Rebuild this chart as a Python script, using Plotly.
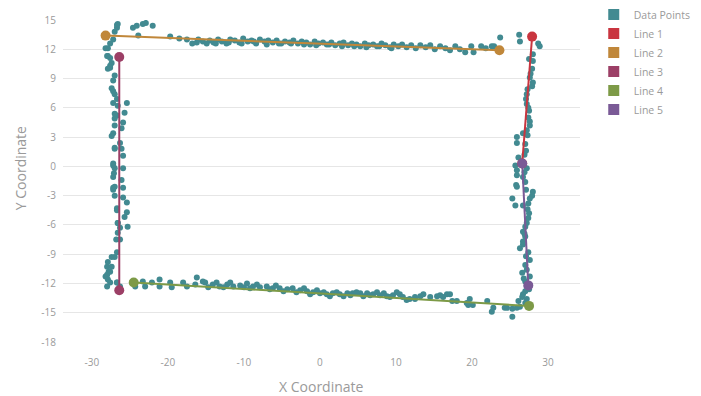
import plotly.graph_objects as go

# ---------------- data ----------------
top_x = [-24.6, -24.1, -23.3, -22.9, -22.0, -23.9, -19.7, -18.5, -17.5, -16.8, -16.2, -16.0, -15.4, -14.9,
         -14.5, -14.0, -13.4, -12.9, -12.3, -11.8, -11.2, -10.6, -10.1, -9.5, -9.0, -8.4, -7.9, -7.3,
         -6.8, -6.2, -5.7, -5.1, -4.6, -4.0, -3.5, -2.9, -2.4, -1.8, -1.3, -0.7, -0.2, 0.4, 0.9, 1.5,
         2.0, 2.6, 3.1, 3.7, 4.2, 4.8, 5.3, 5.9, 6.4, 7.0, 7.5, 8.1, 8.6, 9.2, 9.7, 10.3, 10.8, 11.4,
         12.0, 12.6, 13.2, 13.9, 14.5, 15.1, 15.8, 16.5, 17.1, 17.8, 18.4, 19.1, 19.9, 20.2, 21.2, 21.8,
         22.6, -13.7, -12.0, -10.3, -8.7, -7.0, -5.4, -3.8, -2.1, -0.5, 1.2, 2.9, 4.5, 6.1, 7.8, 9.4]
top_y = [14.2, 14.4, 14.6, 14.7, 14.4, 13.4, 13.3, 13.1, 13.0, 12.6, 12.7, 13.0, 12.8, 12.6,
         12.9, 12.7, 13.0, 12.8, 12.6, 13.0, 12.9, 12.7, 13.1, 12.8, 12.9, 12.6, 13.0, 12.8,
         12.9, 12.7, 12.9, 12.6, 12.8, 12.7, 12.9, 12.6, 12.8, 12.7, 12.5, 12.8, 12.6, 12.7, 12.5, 12.7,
         12.4, 12.6, 12.7, 12.4, 12.6, 12.5, 12.3, 12.6, 12.4, 12.5, 12.3, 12.6, 12.4, 12.2, 12.5, 12.3,
         12.5, 12.2, 12.4, 12.1, 12.4, 12.2, 12.4, 12.0, 12.3, 12.1, 11.9, 12.3, 12.0, 11.7, 12.3, 11.7,
         12.3, 12.1, 12.3, 12.6, 12.7, 12.6, 12.8, 12.5, 12.6, 12.6, 12.5, 12.4, 12.5, 12.3, 12.3, 12.2, 12.3, 12.1]

right_x = [23.7, 22.9, 26.2, 26.3, 28.7, 28.9, 28.0, 28.0, 27.9, 27.6, 28.0, 27.9, 27.2, 27.1, 27.2,
           27.5, 27.4, 27.6, 27.2, 26.7, 25.9, 25.9, 27.0, 27.1, 26.1, 25.7, 25.9, 25.9, 26.7, 27.2,
           25.8, 27.0, 25.9, 28.0, 27.9, 27.6, 25.3, 25.7, 26.7, 27.5, 27.4, 27.2, 26.7, 27.0, 26.7,
           26.3, 26.7, 27.6, 27.0, 27.2, 26.6, 27.6, 27.0, 27.2, 27.0, 26.7, 26.6, 26.1, 27.2,
           27.5, 27.7, 27.3, 27.4, 27.6, 27.3, 26.9, 26.5, 26.9, 27.1, 27.4, 27.3, 27.0, 26.9, 27.4,
           27.1, 26.8, 27.5]
right_y = [13.2, 12.3, 13.5, 12.8, 12.6, 12.3, 11.5, 10.8, 10.0, 9.1, 8.6, 8.2, 7.4, 6.9, 6.4,
           5.7, 5.0, 4.2, 3.7, 3.4, 3.0, 2.4, 2.3, 1.6, 0.9, 0.1, -0.4, -0.9, -1.1, -0.2,
           -1.9, -1.6, -2.1, -2.6, -3.0, -3.3, -3.3, -4.0, -4.0, -4.8, -5.3, -5.8, -6.7, -7.2, -7.7,
           -8.4, -8.0, -9.6, -10.1, -10.6, -10.9, -11.3, -11.8, -12.3, -12.8, -13.1, -13.4, -13.8, -13.6,
           11.0, 9.5, 7.9, 6.0, 4.6, 3.2, 1.2, 0.5, -0.6, -2.4, -3.8, -4.4, -6.2, -6.9, -8.8,
           -9.2, -11.5, -12.6]

left_x = [-26.6, -26.7, -27.0, -27.2, -27.6, -27.9, -27.9, -27.6, -27.4, -27.6, -27.9, -27.0, -27.2,
          -27.4, -27.0, -26.7, -27.2, -25.4, -26.6, -25.7, -26.7, -27.0, -25.9, -27.0, -26.1, -27.2,
          -26.3, -26.1, -27.0, -25.9, -26.7, -28.2, -28.0, -27.6, -27.2, -27.0, -27.4, -27.0, -27.2,
          -27.1, -27.2, -27.0, -26.7, -26.6, -26.8, -27.4, -28.0, -27.8, -28.2, -28.0, -26.7,
          -27.2, -27.0, -25.9, -27.2, -26.1, -27.0, -25.9, -27.2, -25.9, -25.4, -26.7, -25.4, -25.7,
          -26.6, -25.3, -26.3, -26.6, -26.3, -26.7, -27.0, -27.9, -27.4, -27.6, -28.0, -27.9, -27.6,
          -26.7, -26.3]
left_y = [14.6, 14.2, 13.8, 13.0, 12.6, 12.1, 11.3, 11.1, 10.6, 10.3, 10.0, 9.3, 8.8,
          8.0, 7.4, 6.9, 6.5, 6.5, 6.2, 5.5, 5.2, 4.9, 4.5, 4.2, 3.9, 3.4,
          2.4, 1.8, 1.8, 1.1, 14.5, 12.1, 11.3, 10.1, 7.7, 5.4, 3.1, 1.9, 0.1,
          -0.7, -2.2, -3.0, -4.5, -5.8, -7.5, -9.3, -10.3, -10.8, -11.3, -12.3, -11.9,
          0.3, -0.2, -0.2, -1.1, -1.4, -2.1, -2.2, -2.4, -3.2, -3.7, -4.3, -4.7, -5.2,
          -5.8, -6.2, -6.3, -6.8, -7.5, -8.8, -9.3, -9.8, -10.3, -10.8, -11.1, -11.6, -11.9,
          -11.9, -12.3]

bottom_x = [-24.3, -23.3, -23.0, -22.1, -21.1, -21.1, -19.7, -19.5, -18.0, -17.5, -16.4, -16.2, -15.1,
            -15.4, -14.1, -13.2, -12.2, -11.4, -10.5, -9.6, -8.8, -7.9, -7.0, -6.2, -5.3, -4.3, -3.6,
            -2.6, -1.7, -0.9, 0.0, 0.9, 1.7, 2.6, 3.6, 4.3, 5.3, 6.2, 7.0, 7.9, 8.8, 9.6, 10.5, 11.4,
            12.5, 13.2, 13.6, 14.5, 15.4, 15.8, 16.7, 17.4, 18.0, 19.3, 19.5, 19.7, 20.1, 22.0, 22.6,
            22.8, 24.3, 24.6, 25.3, 25.3, 25.9, 26.3, 27.0, 10.9, 11.8, 12.5, 16.2, 17.1,
            -14.7, -13.6, -12.7, -11.8, -10.0, -9.2, -8.3, -6.6, -5.8, -4.8, -3.1, -2.1, -1.3, -0.4,
            0.5, 1.3, 2.2, 3.1, 4.0, 4.8, 5.7, 6.6, 7.5, 8.4, 9.2, 10.1]
bottom_y = [-12.3, -11.8, -12.3, -11.9, -11.6, -12.3, -11.9, -12.4, -11.9, -12.3, -12.1, -11.4, -11.9,
            -11.8, -12.1, -12.3, -12.1, -12.3, -12.2, -12.0, -12.3, -12.4, -12.3, -12.5, -12.5, -12.6, -12.5,
            -12.7, -12.8, -12.9, -13.0, -13.1, -13.0, -13.1, -13.0, -13.0, -13.0, -13.0, -13.1, -13.2, -13.3, -13.2, -13.1, -13.7,
            -13.6, -13.3, -13.1, -13.4, -13.3, -13.2, -13.1, -13.8, -13.8, -14.0, -14.2, -13.6, -14.2, -13.8, -14.9,
            -14.5, -14.5, -14.5, -15.4, -14.6, -14.5, -14.4, -14.0, -13.4, -13.6, -13.4, -13.4, -13.1,
            -12.4, -11.9, -12.4, -11.9, -12.4, -12.5, -12.1, -12.6, -12.2, -12.8, -12.9, -12.5, -13.1, -12.7,
            -12.9, -13.3, -12.9, -13.3, -13.2, -12.9, -13.3, -13.2, -12.9, -13.0, -13.4, -12.9]

point_x = top_x + right_x + left_x + bottom_x
point_y = top_y + right_y + left_y + bottom_y

line_names = ["Line 1", "Line 2", "Line 3", "Line 4", "Line 5"]
line_x = [[27.9, 26.6], [-28.2, 23.6], [-26.4, -26.4], [-24.5, 27.5], [26.6, 27.4]]
line_y = [[13.3, 0.3], [13.4, 11.9], [11.2, -12.7], [-11.9, -14.3], [0.3, -12.2]]
line_colors = ["#c9353f", "#c0873a", "#9c3f66", "#7d9a47", "#7a5a96"]
point_color = "#428a91"

x_ticks = [-30, -20, -10, 0, 10, 20, 30]
x_tick_labels = ["-30", "-20", "-10", "0", "10", "20", "30"]
y_ticks = [15, 12, 9, 6, 3, 0, -3, -6, -9, -12, -15, -18]
y_tick_labels = ["15", "12", "9", "6", "3", "0", "-3", "-6", "-9", "-12", "-15", "-18"]

FONT = "Open Sans, Lato, sans-serif"
GRAY = "#9a9a9a"

fig = go.Figure()
fig.add_trace(go.Scatter(x=point_x, y=point_y, mode="markers", name="Data Points",
                         marker=dict(color=point_color, size=6), showlegend=False,
                         legendgroup="pts"))
for name, xs, ys, c in zip(line_names, line_x, line_y, line_colors):
    fig.add_trace(go.Scatter(x=xs, y=ys, mode="lines+markers", name=name,
                             line=dict(color=c, width=2), marker=dict(color=c, size=10),
                             showlegend=False, legendgroup=name))

# legend entries as squares
fig.add_trace(go.Scatter(x=[None], y=[None], mode="markers", name="Data Points",
                         marker=dict(color=point_color, size=11, symbol="square"), legendgroup="pts"))
for name, c in zip(line_names, line_colors):
    fig.add_trace(go.Scatter(x=[None], y=[None], mode="markers", name=name,
                             marker=dict(color=c, size=11, symbol="square"), legendgroup=name))

fig.update_layout(
    width=701, height=396,
    margin=dict(l=63, r=121, t=18, b=54),
    paper_bgcolor="white", plot_bgcolor="white",
    font=dict(family=FONT, color=GRAY, size=11),
    showlegend=True,
    legend=dict(xref="container", yref="container", x=0.847, y=1.0,
                xanchor="left", yanchor="top",
                font=dict(size=10.5, color=GRAY), itemwidth=30, tracegroupgap=0,
                bgcolor="rgba(0,0,0,0)"),
    xaxis=dict(range=[-33.8, 34.2], tickvals=x_ticks, ticktext=x_tick_labels,
               showgrid=False, zeroline=False,
               showline=False, ticks="", tickfont=dict(size=10, color=GRAY),
               ticklabelstandoff=13),
    yaxis=dict(range=[-18, 15], tickvals=y_ticks, ticktext=y_tick_labels,
               showgrid=True, gridcolor="#e6e6e6",
               gridwidth=1, zeroline=False, showline=False, ticks="",
               tickfont=dict(size=10, color=GRAY), ticklabelstandoff=6),
    annotations=[
        dict(text="X Coordinate", x=0.5, y=-0.139, xref="paper", yref="paper",
             showarrow=False, yanchor="middle", font=dict(size=14, color=GRAY)),
        dict(text="Y Coordinate", x=-0.083, y=0.54, xref="paper", yref="paper",
             showarrow=False, textangle=-90, xanchor="center", yanchor="middle",
             font=dict(size=14, color=GRAY)),
    ],
)

fig.write_html("out.html", config={"displayModeBar": False},
               post_script="document.body.style.margin='0';")
